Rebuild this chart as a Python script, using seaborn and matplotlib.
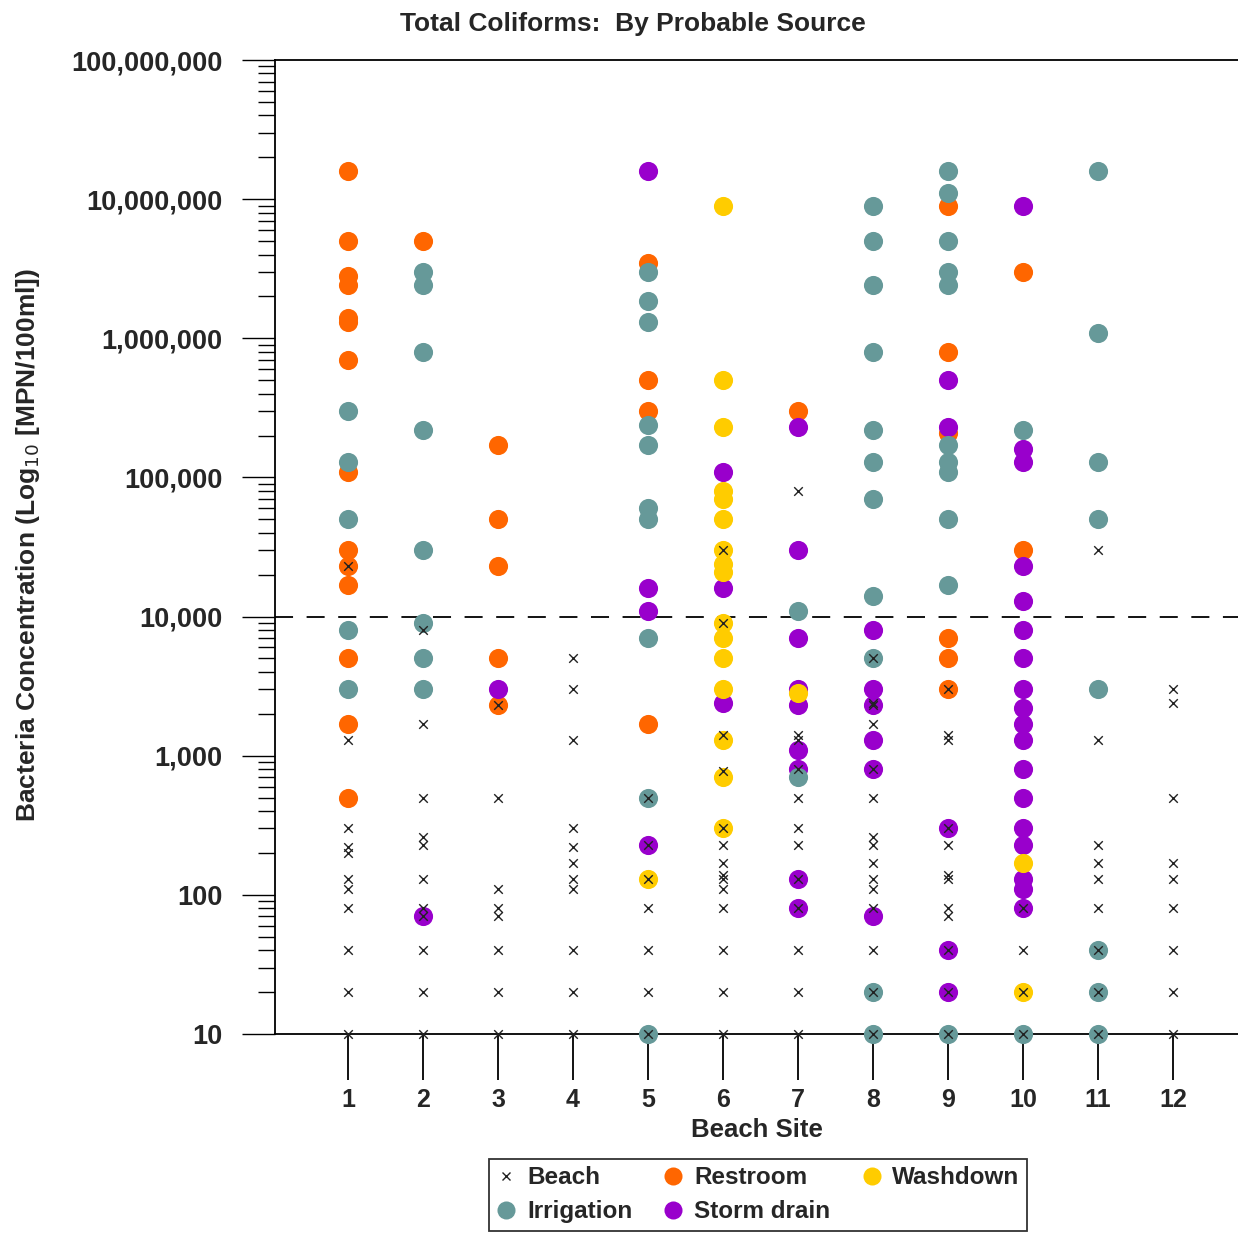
import numpy as np
import pandas as pd
import seaborn as sns
import matplotlib.pyplot as plt
from matplotlib.ticker import FuncFormatter, LogLocator, NullFormatter
from matplotlib.lines import Line2D

# values, per source: {beach site: [MPN/100ml, ...]}
beach = {
	1: [23000, 1300, 300, 220, 200, 130, 110, 80, 40, 20, 10],
	2: [8000, 1700, 500, 260, 230, 130, 80, 70, 40, 20, 10],
	3: [2300, 500, 110, 80, 70, 40, 20, 10],
	4: [5000, 3000, 1300, 300, 220, 170, 130, 110, 40, 20, 10],
	5: [500, 230, 130, 80, 40, 20, 10],
	6: [30000, 9000, 1400, 780, 300, 230, 170, 140, 130, 110, 80, 40, 20, 10],
	7: [80000, 1400, 1300, 800, 500, 300, 230, 130, 80, 40, 20, 10],
	8: [5000, 2400, 2300, 1700, 800, 500, 260, 230, 170, 130, 110, 80, 40, 20, 10],
	9: [3000, 1400, 1300, 300, 230, 140, 130, 80, 70, 40, 20, 10],
	10: [80, 40, 20, 10],
	11: [30000, 1300, 230, 170, 130, 80, 40, 20, 10],
	12: [3000, 2400, 500, 170, 130, 80, 40, 20, 10],
}
restroom = {
	1: [16e6, 5e6, 2.8e6, 2.4e6, 1.4e6, 1.3e6, 7e5, 1.1e5, 3e4, 2.3e4, 1.7e4, 5e3, 1.7e3, 500],
	2: [5e6],
	3: [1.7e5, 5e4, 2.3e4, 5e3, 2.3e3],
	5: [3.5e6, 5e5, 3e5, 1.7e3],
	7: [3e5],
	9: [9e6, 8e5, 2.1e5, 7e3, 5e3, 3e3],
	10: [3e6, 3e4],
}
irrigation = {
	1: [3e5, 1.3e5, 5e4, 8e3, 3e3],
	2: [3e6, 2.4e6, 8e5, 2.2e5, 3e4, 9e3, 5e3, 3e3],
	5: [3e6, 1.85e6, 1.3e6, 2.4e5, 1.7e5, 6e4, 5e4, 7e3, 500, 10],
	7: [1.1e4, 700],
	8: [9e6, 5e6, 2.4e6, 8e5, 2.2e5, 1.3e5, 7e4, 1.4e4, 5e3, 20, 10],
	9: [1.6e7, 1.1e7, 5e6, 3e6, 2.4e6, 1.7e5, 1.3e5, 1.1e5, 5e4, 1.7e4, 10],
	10: [2.2e5, 10],
	11: [1.6e7, 1.1e6, 1.3e5, 5e4, 3e3, 40, 20, 10],
}
storm = {
	2: [70],
	3: [3e3],
	5: [1.6e7, 1.6e4, 1.1e4, 230],
	6: [1.1e5, 1.6e4, 2.4e3],
	7: [2.3e5, 3e4, 7e3, 3e3, 2.3e3, 1.1e3, 800, 130, 80],
	8: [8e3, 3e3, 2.3e3, 1.3e3, 800, 70],
	9: [5e5, 2.3e5, 300, 40, 20],
	10: [9e6, 1.6e5, 1.3e5, 2.3e4, 1.3e4, 8e3, 5e3, 3e3, 2.2e3, 1.7e3, 1.3e3,
		800, 500, 300, 230, 130, 110, 80],
}
washdown = {
	5: [130],
	6: [9e6, 5e5, 2.3e5, 8e4, 7e4, 5e4, 3e4, 2.4e4, 2.1e4, 9e3, 7e3, 5e3, 3e3, 1.3e3, 700, 300],
	7: [2.8e3],
	10: [170, 20],
}
siteTicks = list(range(1, 13))
yTicks = [10, 100, 1e3, 1e4, 1e5, 1e6, 1e7, 1e8]
threshold = 1e4

def toDf(d, name):
	rows = [(site, v, name) for site, vals in d.items() for v in vals]
	return pd.DataFrame(rows, columns=['site', 'value', 'source'])

sns.set_style('white')
plt.rcParams['font.family'] = ['Liberation Sans', 'DejaVu Sans']

fig = plt.figure(figsize=(12.38, 12.34), dpi=100)
ax = fig.add_axes([275/1238, 1-1034/1234, 1-275/1238, (1034-60)/1234])

# draw order: restroom, storm drain, irrigation, washdown, then beach x's on top
layers = [
	(restroom, 'Restroom', '#FF6600', 2),
	(storm, 'Storm drain', '#9900CC', 3),
	(irrigation, 'Irrigation', '#669999', 4),
	(washdown, 'Washdown', '#FFCC00', 5),
]
for d, name, col, z in layers:
	df = toDf(d, name)
	sns.scatterplot(data=df, x='site', y='value', color=col, s=190, linewidth=0,
		marker='o', ax=ax, zorder=z, clip_on=False, legend=False)

dfBeach = toDf(beach, 'Beach')
sns.scatterplot(data=dfBeach, x='site', y='value', color='#222222', s=38, linewidth=1.0,
	marker='x', ax=ax, zorder=6, clip_on=False, legend=False)

ax.axhline(threshold, color='black', lw=1.3, dashes=(10, 7.5), zorder=1)

ax.set_yscale('log')
ax.set_ylim(10, 1e8)
ax.set_xlim(0.027, 12.867)
ax.set_xticks(siteTicks)
ax.set_yticks(yTicks)
ax.yaxis.set_major_formatter(FuncFormatter(lambda v, p: f'{int(round(v)):,}'))
ax.yaxis.set_minor_locator(LogLocator(base=10, subs=np.arange(2, 10)))
ax.yaxis.set_minor_formatter(NullFormatter())

for sp in ['left', 'top', 'bottom']:
	ax.spines[sp].set_color('black')
	ax.spines[sp].set_linewidth(1.3)
ax.spines['right'].set_visible(False)

ax.tick_params(axis='x', which='major', direction='out', length=33, width=1.3,
	pad=6, labelsize=18, bottom=True, color='black')
ax.tick_params(axis='y', which='major', direction='out', length=24, width=1.0,
	pad=14, labelsize=19.5, left=True, color='black')
ax.tick_params(axis='y', which='minor', direction='out', length=12, width=1.0,
	left=True, color='black')
for lab in ax.get_xticklabels() + ax.get_yticklabels():
	lab.set_fontweight('bold')

ax.set_xlabel('Beach Site', fontsize=18.5, fontweight='bold', labelpad=4)
ax.set_ylabel('')
fig.text(28/1238, 1-545/1234, r'Bacteria Concentration (Log$_{10}$ [MPN/100ml])',
	rotation=90, ha='center', va='center', fontsize=19, fontweight='bold')
fig.text(633/1238, 1-24/1234, 'Total Coliforms:  By Probable Source',
	ha='center', va='center', fontsize=19, fontweight='bold')

handles = [
	Line2D([], [], ls='', marker='x', color='#222222', ms=6, mew=1.0, label='Beach'),
	Line2D([], [], ls='', marker='o', color='#669999', ms=13, mew=0, label='Irrigation'),
	Line2D([], [], ls='', marker='o', color='#FF6600', ms=13, mew=0, label='Restroom'),
	Line2D([], [], ls='', marker='o', color='#9900CC', ms=13, mew=0, label='Storm drain'),
	Line2D([], [], ls='', marker='o', color='#FFCC00', ms=13, mew=0, label='Washdown'),
]
leg = fig.legend(handles=handles, ncol=3, loc='upper center',
	bbox_to_anchor=(758/1238, 1-1147/1234), frameon=True, fancybox=False,
	prop={'size': 17.5, 'weight': 'bold'}, handlelength=0.8, handletextpad=0.45,
	columnspacing=1.3, labelspacing=0.45, borderpad=0.3)
leg.get_frame().set_edgecolor('black')
leg.get_frame().set_linewidth(1.3)

fig.savefig('out.png', dpi=100)
